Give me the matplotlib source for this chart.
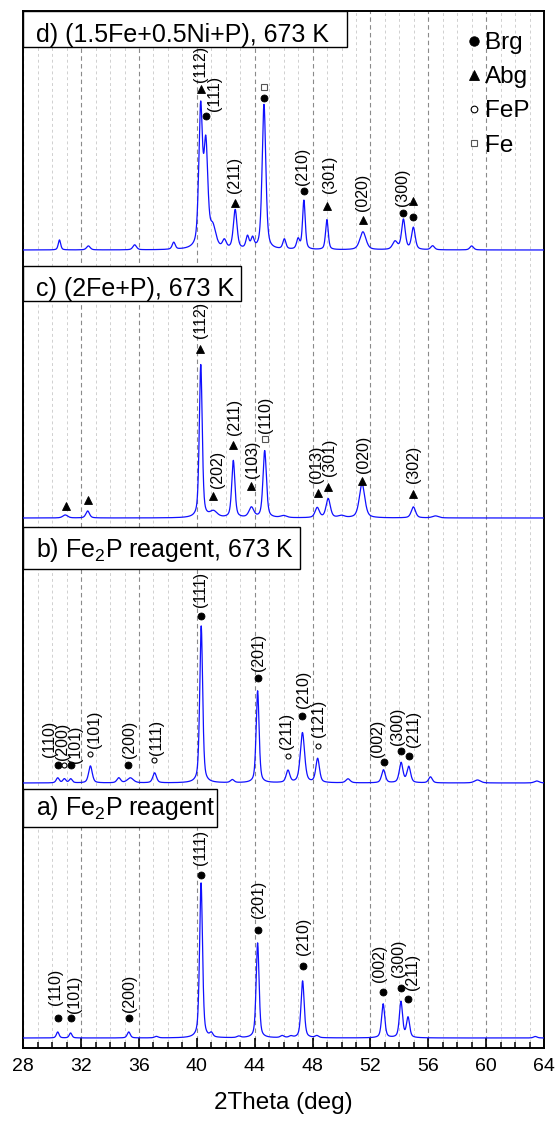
import numpy as np
import matplotlib
matplotlib.use('Agg')
import matplotlib.pyplot as plt
from matplotlib.lines import Line2D
from matplotlib.patches import Rectangle
from matplotlib.ticker import MultipleLocator
import matplotlib.transforms as mtransforms

plt.rcParams['font.family'] = ['Liberation Sans', 'DejaVu Sans']
plt.rcParams['mathtext.fontset'] = 'custom'
plt.rcParams['mathtext.rm'] = 'Liberation Sans'
plt.rcParams['mathtext.it'] = 'Liberation Sans:italic'

# ---------------- data ----------------
XTICKS = [28, 32, 36, 40, 44, 48, 52, 56, 60, 64]
OFFSETS = {'a': 10, 'b': 265, 'c': 530, 'd': 798}

# peaks: (2theta, height, fwhm)
PEAKS_A = [(30.38, 6, 0.22), (31.27, 5, 0.22), (35.29, 6, 0.25), (37.2, 1.5, 0.3),
           (40.29, 155, 0.24), (41.0, 4, 0.25), (42.9, 1.5, 0.3), (44.2, 95, 0.24),
           (45.9, 2, 0.3), (46.5, 1.5, 0.3), (47.31, 57, 0.26), (48.3, 2, 0.3),
           (52.88, 34, 0.26), (54.11, 36, 0.26), (54.6, 20, 0.26), (63.4, 1.5, 0.3)]
PEAKS_B = [(30.38, 5, 0.25), (30.84, 4, 0.25), (31.28, 4, 0.25), (32.64, 17, 0.3),
           (34.6, 5, 0.3), (35.4, 5, 0.5), (37.08, 10, 0.3), (40.3, 157, 0.24),
           (42.45, 3, 0.3), (44.2, 92, 0.24), (46.3, 12, 0.3), (47.3, 50, 0.35),
           (48.35, 24, 0.3), (50.45, 4, 0.35), (52.9, 13, 0.3), (54.12, 20, 0.3),
           (54.65, 16, 0.3), (56.15, 6, 0.3), (59.4, 3, 0.5), (63.5, 2, 0.4)]
PEAKS_C = [(30.9, 3, 0.4), (32.45, 7, 0.3), (40.27, 153, 0.24), (41.15, 6, 0.6),
           (42.52, 57, 0.26), (43.77, 10, 0.4), (44.69, 67, 0.28), (46.0, 2, 0.5),
           (48.32, 10, 0.35), (49.08, 19, 0.35), (50.0, 2, 0.5), (51.42, 34, 0.45),
           (54.97, 11, 0.35), (56.5, 2, 0.5)]
PEAKS_D = [(30.5, 10, 0.2), (32.5, 4, 0.3), (35.7, 5, 0.3), (38.4, 7, 0.25),
           (40.26, 138, 0.3), (40.62, 100, 0.32), (41.1, 20, 0.5), (41.9, 8, 0.3),
           (42.65, 39, 0.3), (43.5, 12, 0.25), (43.85, 10, 0.25), (44.64, 145, 0.3),
           (46.05, 10, 0.25), (47.0, 10, 0.25), (47.4, 49, 0.22), (48.99, 30, 0.22),
           (51.48, 18, 0.5), (53.7, 8, 0.4), (54.28, 30, 0.3), (54.97, 22, 0.3),
           (56.3, 4, 0.3), (59.0, 4, 0.3)]
PEAKS = {'a': PEAKS_A, 'b': PEAKS_B, 'c': PEAKS_C, 'd': PEAKS_D}

# annotations: (phase, x, marker_y, label, label_x, label_bottom_y)
ANN_A = [('Brg', 30.38, 30, '(110)', 30.23, 43), ('Brg', 31.27, 30, '(101)', 31.53, 35),
         ('Brg', 35.29, 30, '(200)', 35.34, 36), ('Brg', 40.29, 173, '(111)', 40.25, 183),
         ('Brg', 44.2, 118, '(201)', 44.25, 130), ('Brg', 47.31, 82, '(210)', 47.36, 93),
         ('Brg', 52.88, 56, '(002)', 52.6, 66), ('Brg', 54.11, 60, '(300)', 53.91, 71),
         ('Brg', 54.6, 49, '(211)', 54.92, 58)]
ANN_B = [('Brg', 30.38, 283, '(110)', 29.83, 291), ('FeP', 30.84, 283, '(200)', 30.73, 288),
         ('Brg', 31.28, 283, '(101)', 31.62, 285), ('FeP', 32.62, 294, '(101)', 32.9, 300),
         ('Brg', 35.25, 283, '(200)', 35.32, 290), ('FeP', 37.07, 288, '(111)', 37.24, 293),
         ('Brg', 40.3, 432, '(111)', 40.25, 441), ('Brg', 44.2, 370, '(201)', 44.25, 377),
         ('FeP', 46.3, 292, '(211)', 46.2, 299), ('Brg', 47.3, 332, '(210)', 47.36, 340),
         ('FeP', 48.35, 302, '(121)', 48.42, 311), ('Brg', 52.95, 286, '(002)', 52.52, 291),
         ('Brg', 54.14, 297, '(300)', 53.86, 303), ('Brg', 54.66, 292, '(211)', 54.97, 301)]
ANN_C = [('Abg', 30.92, 542, None, 0, 0), ('Abg', 32.44, 548, None, 0, 0),
         ('Abg', 40.25, 699, '(112)', 40.23, 710), ('Abg', 41.12, 552, '(202)', 41.42, 560),
         ('Abg', 42.52, 603, '(211)', 42.6, 613), ('Abg', 43.77, 562, '(103)', 43.85, 570),
         ('Fe', 44.69, 609, '(110)', 44.76, 615), ('Abg', 48.38, 555, '(013)', 48.25, 565),
         ('Abg', 49.05, 561, '(301)', 49.14, 572), ('Abg', 51.45, 567, '(020)', 51.5, 575),
         ('Abg', 54.97, 554, '(302)', 54.97, 565)]
ANN_D = [('Abg', 40.26, 959, '(112)', 40.23, 966), ('Brg', 40.66, 932, '(111)', 41.2, 937),
         ('Fe', 44.62, 961, None, 0, 0), ('Brg', 44.62, 950, None, 0, 0),
         ('Abg', 42.64, 845, '(211)', 42.6, 855), ('Brg', 47.38, 857, '(210)', 47.3, 863),
         ('Abg', 49.0, 842, '(301)', 49.15, 855), ('Abg', 51.47, 828, '(020)', 51.47, 837),
         ('Brg', 54.28, 835, '(300)', 54.25, 842), ('Abg', 54.97, 847, None, 0, 0),
         ('Brg', 54.97, 831, None, 0, 0)]
ANNOTATIONS = ANN_A + ANN_B + ANN_C + ANN_D

PANEL_LABELS = {'d': 'd) (1.5Fe+0.5Ni+P), 673 K', 'c': 'c) (2Fe+P), 673 K',
                'b': 'b) Fe$_2$P reagent, 673 K', 'a': 'a) Fe$_2$P reagent'}
LEGEND_PHASES = ['Brg', 'Abg', 'FeP', 'Fe']

# ---------------- layout (pixels in 556x1124 image) ----------------
W, H = 556, 1124
AX_L, AX_R, AX_T, AX_B = 23.3, 544.0, 11.0, 1048.0


def py(px):
    return AX_B - px


# boxes: (right_px, top_px, bottom_px, text_baseline_px)
BOXES = {'d': (346.7, 11.0, 46.7, 41.7), 'c': (240.7, 266.0, 301.0, 296.0),
         'b': (300.0, 527.3, 569.0, 557.5), 'a': (216.5, 789.3, 827.0, 815.0)}

ANN_STYLE = {'Brg': dict(marker='o', ms=5, mfc='black', mec='black', mew=0.6),
             'Abg': dict(marker='^', ms=6, mfc='black', mec='black', mew=0.6),
             'FeP': dict(marker='o', ms=3.6, mfc='white', mec='black', mew=0.8),
             'Fe': dict(marker='s', ms=4.3, mfc='white', mec='#555555', mew=0.8)}
LEG_STYLE = {'Brg': dict(marker='o', ms=6.8, mfc='black', mec='black', mew=0.6),
             'Abg': dict(marker='^', ms=7.2, mfc='black', mec='black', mew=0.6),
             'FeP': dict(marker='o', ms=4.8, mfc='white', mec='black', mew=0.8),
             'Fe': dict(marker='s', ms=4.5, mfc='white', mec='#555555', mew=0.8)}


def profile(x, peaks):
    y = np.zeros_like(x)
    for pos, h, w in peaks:
        u = ((x - pos) / (w / 2.0)) ** 2
        y += h * (0.5 / (1.0 + u) + 0.5 * np.exp(-np.log(2) * u))
    return y


fig = plt.figure(figsize=(W / 100, H / 100), dpi=100)
ax = fig.add_axes([AX_L / W, (H - AX_B) / H, (AX_R - AX_L) / W, (AX_B - AX_T) / H])

theta = np.arange(28.0, 64.0001, 0.01)
for key in ['a', 'b', 'c', 'd']:
    ax.plot(theta, OFFSETS[key] + profile(theta, PEAKS[key]), color='#1010ff', lw=0.9, zorder=3)

for phase, x, my, lab, lx, ly in ANNOTATIONS:
    ax.plot([x], [my], linestyle='none', zorder=5, **ANN_STYLE[phase])
    if lab:
        ax.text(lx, ly, lab, rotation=90, ha='center', va='bottom', fontsize=11.5, zorder=5)

ax.set_xlim(28, 64)
ax.set_ylim(0, AX_B - AX_T)
ax.set_xticks(XTICKS)
ax.xaxis.set_minor_locator(MultipleLocator(1))
ax.set_yticks([])
ax.tick_params(axis='x', which='major', direction='in', length=7, width=1.2, labelsize=14, pad=7.5)
ax.tick_params(axis='x', which='minor', direction='in', length=4.3, width=1.1)
ax.grid(which='major', axis='x', linestyle=(0, (4, 3)), color='#8a8a8a', lw=0.8, zorder=1)
ax.grid(which='minor', axis='x', linestyle=(0, (3, 3)), color='#d0d0d0', lw=0.7, zorder=1)
for s in ax.spines.values():
    s.set_linewidth(1.4)
ax.set_xlabel('2Theta (deg)', fontsize=17.5, labelpad=12)

trans = mtransforms.blended_transform_factory(ax.transAxes, ax.transData)
for key, (rpx, tpx, bpx, basepx) in BOXES.items():
    x1 = (rpx - AX_L) / (AX_R - AX_L)
    rect = Rectangle((0, py(bpx)), x1, py(tpx) - py(bpx), transform=trans,
                     facecolor='white', edgecolor='black', lw=1.0, zorder=6)
    ax.add_patch(rect)
    ax.text((36 - AX_L) / (AX_R - AX_L), py(basepx), PANEL_LABELS[key], transform=trans,
            ha='left', va='baseline', fontsize=18, zorder=7)

handles = [Line2D([], [], linestyle='none', **LEG_STYLE[p]) for p in LEGEND_PHASES]
leg = ax.legend(handles, LEGEND_PHASES, loc='upper left',
                bbox_to_anchor=((467.2 - AX_L) / (AX_R - AX_L), (AX_B - 32.0) / (AX_B - AX_T)),
                frameon=False, borderpad=0, borderaxespad=0, handlelength=0.6,
                handletextpad=0.13, labelspacing=0.5, fontsize=17.5)
leg.set_zorder(8)

fig.savefig('out.png', dpi=100)
